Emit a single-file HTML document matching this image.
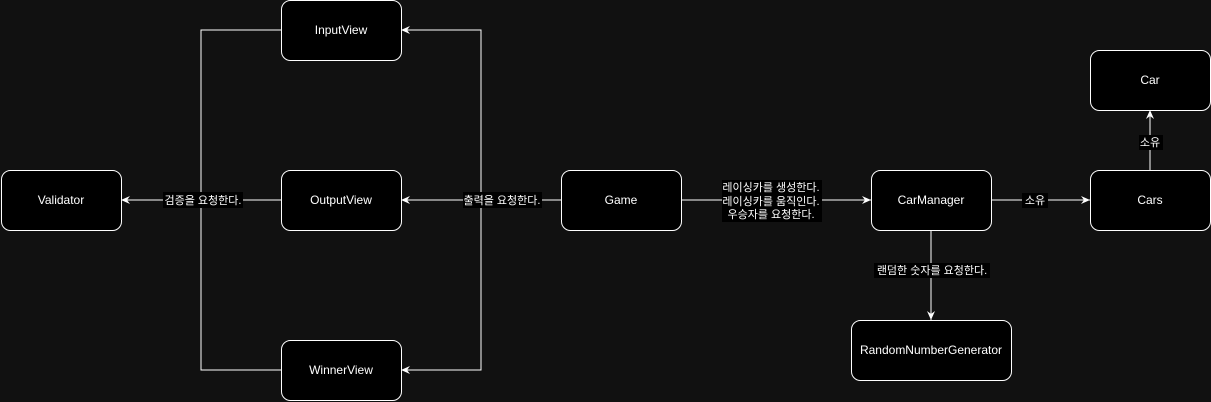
<!DOCTYPE html>
<html><head><meta charset="utf-8"><style>
html,body{margin:0;padding:0;background:#111111;width:1211px;height:402px;overflow:hidden}
svg{display:block}
text{font-family:"Liberation Sans","Noto Sans CJK KR",sans-serif;fill:#fff}
</style></head><body>
<svg width="1211" height="402" viewBox="0 0 1211 402" xmlns="http://www.w3.org/2000/svg">
<defs>
<marker id="a" markerWidth="10" markerHeight="10" refX="9" refY="5" orient="auto" markerUnits="userSpaceOnUse">
<path d="M0,1 L9,5 L0,9 L3,5 Z" fill="#fff"/>
</marker>
</defs>
<g stroke="#fff" stroke-width="1" fill="none">
<!-- Game to views -->
<polyline points="561,200 481,200"/>
<polyline points="481,200 481,30 401,30" marker-end="url(#a)"/>
<polyline points="481,200 401,200" marker-end="url(#a)"/>
<polyline points="481,200 481,370 401,370" marker-end="url(#a)"/>
<!-- views to validator -->
<polyline points="281,30 201,30 201,200"/>
<polyline points="281,370 201,370 201,200"/>
<polyline points="281,200 121,200" marker-end="url(#a)"/>
<!-- game to carmanager -->
<polyline points="681,200 871,200" marker-end="url(#a)"/>
<polyline points="991,200 1090,200" marker-end="url(#a)"/>
<polyline points="1150,170 1150,110" marker-end="url(#a)"/>
<polyline points="931,230 931,320" marker-end="url(#a)"/>
</g>
<g fill="#000" stroke="#fff" stroke-width="1">
<rect x="281.5" y="0.5" width="120" height="60" rx="9"/>
<rect x="281.5" y="170.5" width="120" height="60" rx="9"/>
<rect x="281.5" y="340.5" width="120" height="60" rx="9"/>
<rect x="1.5" y="170.5" width="120" height="60" rx="9"/>
<rect x="561.5" y="170.5" width="120" height="60" rx="9"/>
<rect x="871.5" y="170.5" width="120" height="60" rx="9"/>
<rect x="1090.5" y="170.5" width="120" height="60" rx="9"/>
<rect x="1090.5" y="50.5" width="120" height="60" rx="9"/>
<rect x="851.5" y="320.5" width="160" height="60" rx="9"/>
</g>
<g font-size="12" text-anchor="middle">
<text x="341" y="34">InputView</text>
<text x="341" y="204">OutputView</text>
<text x="341" y="374">WinnerView</text>
<text x="61" y="204">Validator</text>
<text x="621" y="204">Game</text>
<text x="931" y="204">CarManager</text>
<text x="1150" y="204">Cars</text>
<text x="1150" y="84">Car</text>
<text x="931" y="354">RandomNumberGenerator</text>
</g>
<g fill="#000">
<rect x="463" y="192" width="79" height="16"/>
<rect x="163" y="192" width="80" height="16"/>
<rect x="722" y="180" width="100" height="42"/>
<rect x="1022" y="193" width="26" height="15"/>
<rect x="1139" y="135" width="24" height="15"/>
<rect x="874" y="263" width="116" height="15"/>
</g>
<g font-size="11" text-anchor="middle">
<text x="502" y="204">출력을 요청한다.</text>
<text x="203" y="204">검증을 요청한다.</text>
<text x="771" y="191">레이싱카를 생성한다.</text>
<text x="771" y="205">레이싱카를 움직인다.</text>
<text x="771" y="218">우승자를 요청한다.</text>
<text x="1035" y="204">소유</text>
<text x="1150" y="146">소유</text>
<text x="932" y="274">랜덤한 숫자를 요청한다.</text>
</g>
</svg>
</body></html>
